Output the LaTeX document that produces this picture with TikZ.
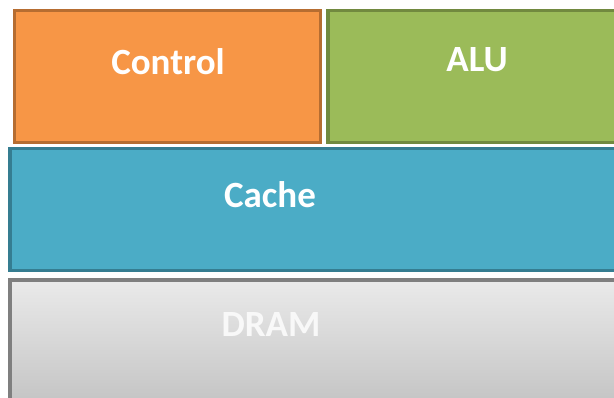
\documentclass[tikz,border=0pt]{standalone}
\usepackage{fontspec}
\setmainfont{Carlito}
\definecolor{ctrlfill}{HTML}{F79646}
\definecolor{ctrldraw}{HTML}{B66D31}
\definecolor{alufill}{HTML}{9BBB59}
\definecolor{aludraw}{HTML}{71893F}
\definecolor{cachefill}{HTML}{4BACC6}
\definecolor{cachedraw}{HTML}{357D91}
\definecolor{dramtop}{HTML}{EAEAEA}
\definecolor{drambot}{HTML}{C2C2C2}
\definecolor{dramdraw}{HTML}{7F7F7F}
\definecolor{dramtext}{HTML}{F8F8F8}
\begin{document}
\begin{tikzpicture}[x=1pt,y=-1pt,
  blk/.style={rectangle, line width=3.5pt, inner sep=0pt, outer sep=0pt},
  lbl/.style={font=\bfseries\fontsize{37}{42}\selectfont, text=white, inner sep=0pt}]
\useasboundingbox (0,0) rectangle (614,398);
\fill[white] (0,0) rectangle (614,398);
\node[blk, fill=ctrlfill, draw=ctrldraw, minimum width=306pt, minimum height=132pt] (ctrl) at (167.5,76.5) {};
\node[blk, fill=alufill, draw=aludraw, minimum width=292pt, minimum height=132pt] (alu) at (474,76.5) {};
\node[blk, fill=cachefill, draw=cachedraw, minimum width=610pt, minimum height=122pt] (cache) at (315,209.5) {};
\node[blk, top color=dramtop, bottom color=drambot, draw=dramdraw, minimum width=610pt, minimum height=130pt] (dram) at (315,345) {};
\node[lbl] (ctrlt) at (168,62) {Control};
\node[lbl] (alut) at (477,60) {ALU};
\node[lbl] (cachet) at (270,195) {Cache};
\node[lbl, text=dramtext] (dramt) at (271,325) {DRAM};
\end{tikzpicture}
\end{document}
